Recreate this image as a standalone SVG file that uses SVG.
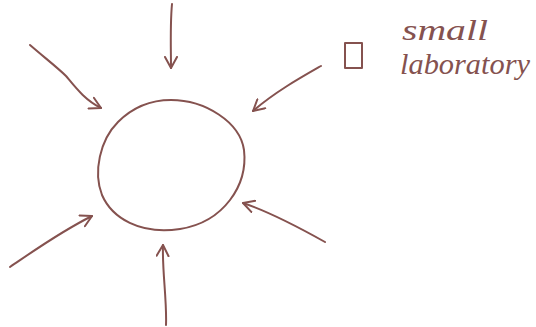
<svg xmlns="http://www.w3.org/2000/svg" width="536" height="327" viewBox="0 0 536 327">
<defs>
<style>
.ink{fill:none;stroke:#85524f;stroke-width:2;stroke-linecap:round;stroke-linejoin:round}
.hand{font-family:"Liberation Serif",serif;font-style:italic;font-size:29px;fill:#85524f}
</style>
<marker id="v" viewBox="0 0 14 14" refX="12" refY="7" markerWidth="14" markerHeight="14" markerUnits="userSpaceOnUse" orient="auto">
<path d="M1,1 L12,7 L1,13" fill="none" stroke="#85524f" stroke-width="2" stroke-linecap="round" stroke-linejoin="round"/>
</marker>
</defs>
<rect width="536" height="327" fill="#fff"/>
<g id="lab-circle">
<path class="ink" d="M171,100 C205,100 240,122 244,150 C248,185 224,222 180,229 C140,235 112,218 102,195 C93,172 100,140 118,122 C132,108 150,100 171,100 Z"/>
</g>
<g id="small-laboratory">
<rect class="ink" x="345" y="43" width="17" height="25"/>
<text class="hand" x="402" y="40" textLength="86" lengthAdjust="spacingAndGlyphs">small</text>
<text class="hand" x="400" y="74" textLength="130" lengthAdjust="spacingAndGlyphs">laboratory</text>
</g>
<g id="connectors">
<path class="ink" marker-end="url(#v)" d="M172,4 C170,25 171,50 171,68"/>
<path class="ink" marker-end="url(#v)" d="M30,45 C45,58 58,68 66,76 C76,88 85,100 101,108"/>
<path class="ink" marker-end="url(#v)" d="M321,66 C300,78 275,92 253,111"/>
<path class="ink" marker-end="url(#v)" d="M10,267 C35,250 60,232 92,216"/>
<path class="ink" marker-end="url(#v)" d="M166,325 C167,300 162,270 163,245"/>
<path class="ink" marker-end="url(#v)" d="M325,242 C300,228 270,212 243,203"/>
</g>
</svg>
